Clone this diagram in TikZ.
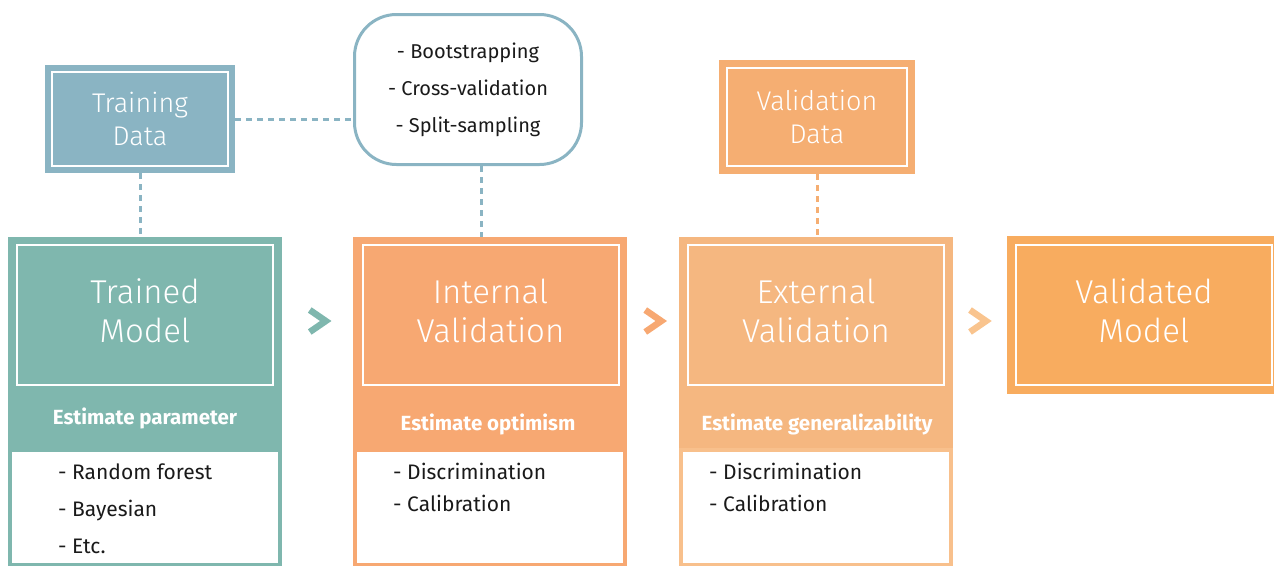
\documentclass[tikz,border=0pt]{standalone}
\usepackage{fontspec}
\setmainfont{Fira Sans}
\newfontfamily\lightfont{Fira Sans Light}
\usepackage{tikz}
\usetikzlibrary{calc, positioning}
\definecolor{tealc}{HTML}{7FB7AE}
\definecolor{bluec}{HTML}{8AB4C3}
\definecolor{intc}{HTML}{F7A872}
\definecolor{extc}{HTML}{F5B780}
\definecolor{extline}{HTML}{F8C08C}
\definecolor{vdc}{HTML}{F5AE72}
\definecolor{vmc}{HTML}{F8AC5F}
\definecolor{chevc}{HTML}{F9C48E}
\definecolor{inkc}{HTML}{1A1A1A}
\begin{document}
\begin{tikzpicture}[
            x=1pt, y=-1pt,
            every node/.style={inner sep=0pt},
            head/.style={rectangle, minimum width=274pt, minimum height=211pt},
            frame/.style={rectangle, draw=white, line width=2pt, minimum width=256pt, minimum height=140pt,
                text=white, align=center, text depth=8pt, font=\lightfont\fontsize{33}{39}\selectfont},
            est/.style={text=white, font=\bfseries\fontsize{20.5}{22}\selectfont},
            body/.style={rectangle, fill=white, line width=4pt, minimum width=270pt, minimum height=115pt, anchor=north},
            items/.style={anchor=base west, align=left, text=inkc, font=\fontsize{21}{37}\selectfont},
            data/.style={rectangle, double=white, double distance=2pt, outer sep=7pt,
                text=white, align=center, font=\lightfont\fontsize{27}{33}\selectfont},
            link/.style={line width=3pt, dash pattern=on 6pt off 5pt},
            chev/.style={line width=6.5pt, miter limit=10}
        ]
            \useasboundingbox (0,0) rectangle (1274,565);
            \node[data, fill=bluec, draw=bluec, line width=6pt, minimum width=176pt, minimum height=94pt] (td) at (140,119) {Training\\Data};
            \node[rectangle, rounded corners=42pt, draw=bluec, line width=3pt, minimum width=227pt, minimum height=150pt,
                align=center, text=inkc, font=\fontsize{20}{37}\selectfont] (bub) at (468,89.5)
                {- Bootstrapping\\- Cross-validation\\- Split-sampling};
            \node[data, fill=vdc, draw=vdc, line width=7pt, outer sep=8pt, minimum width=180pt, minimum height=98pt] (vd) at (817,117) {Validation\\Data};
            \node[head, fill=tealc] (tm) at (145,342.5) {};
            \node[frame] (tmt) at (145,315) {Trained\\Model};
            \node[est] (tme) at (145,418) {Estimate parameter};
            \node[body, draw=tealc] (tmb) at (tm.south) {};
            \node[items] (tml) at (58,553) {- Random forest\\- Bayesian\\- Etc.};
            \node[head, fill=intc] (iv) at (490,342.5) {};
            \node[frame] (ivt) at (490.5,315) {Internal\\Validation};
            \node[est] (ive) at (488,424) {Estimate optimism};
            \node[body, draw=intc] (ivb) at (iv.south) {};
            \node[items, font=\fontsize{21}{32}\selectfont] (ivl) at (393,511) {- Discrimination\\- Calibration};
            \node[head, fill=extc] (ev) at (816,342.5) {};
            \node[frame] (evt) at (816,315) {External\\Validation};
            \node[est] (eve) at (817,424) {Estimate generalizability};
            \node[body, draw=extline] (evb) at (ev.south) {};
            \node[items, font=\fontsize{21}{32}\selectfont] (evl) at (709,511) {- Discrimination\\- Calibration};
            \node[data, fill=vmc, draw=vmc, line width=8pt, outer sep=9pt, minimum width=256pt, minimum height=140pt,
                text depth=8pt, font=\lightfont\fontsize{33}{39}\selectfont] (vm) at (1144,315) {Validated\\Model};
            \coordinate (c1) at ($(tmt.east)!0.5!(ivt.west)+(0,6)$);
            \coordinate (c2) at ($(ivt.east)!0.5!(evt.west)+(0,6)$);
            \coordinate (c3) at ($(evt.east)!0.5!(vm.west)+(2,6)$);
            \draw[chev, tealc] ($(c1)+(-8,-11)$) -- ++(16,11) -- ++(-16,11);
            \draw[chev, intc] ($(c2)+(-8,-11)$) -- ++(16,11) -- ++(-16,11);
            \draw[chev, chevc] ($(c3)+(-8,-11)$) -- ++(16,11) -- ++(-16,11);
            \path[draw, link, bluec]
            (td.east) edge (td.east -| bub.west)
            (td.south) edge (td.south |- tm.north)
            ([xshift=13pt]bub.south) edge ([xshift=13pt]bub.south |- iv.north)
            ;
            \path[draw, link, vdc]
            (vd.south) edge (vd.south |- ev.north)
            ;
        \end{tikzpicture}
\end{document}
